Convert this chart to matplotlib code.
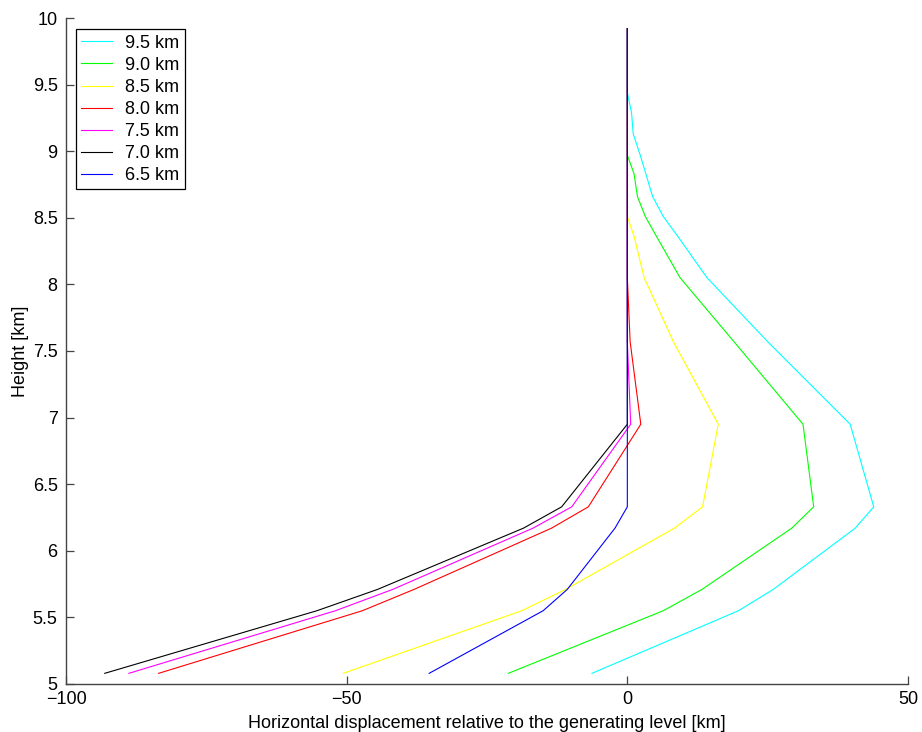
import matplotlib
matplotlib.use("Agg")
import matplotlib.pyplot as plt
import numpy as np

plt.rcParams['font.family'] = ['Liberation Sans', 'DejaVu Sans']

# model levels (km) shared by all trajectories
heights = [5.08, 5.55, 5.71, 6.17, 6.33, 6.95, 7.57, 8.05, 8.36, 8.51,
           8.66, 8.83, 8.97, 9.13, 9.29, 9.44, 9.92]

# horizontal displacement (km) per generating level
disp_95 = [-6.3, 19.8, 26.0, 40.6, 43.9, 39.7, 25.0, 14.2, 9.0, 6.4,
           4.5, 3.3, 2.3, 1.05, 0.75, 0, 0]
disp_90 = [-21.2, 6.4, 13.3, 29.3, 33.2, 31.3, 19.0, 9.4, 5.2, 3.2,
           1.8, 1.2, 0, 0, 0, 0, 0]
disp_85 = [-50.6, -18.8, -11.0, 8.4, 13.4, 16.2, 8.2, 3.0, 1.2, 0,
           0, 0, 0, 0, 0, 0, 0]
disp_80 = [-83.5, -47.2, -38.0, -13.5, -6.95, 2.4, 0.5, 0, 0, 0,
           0, 0, 0, 0, 0, 0, 0]
disp_75 = [-88.8, -52.0, -41.8, -16.8, -9.9, 0.6, 0, 0, 0, 0,
           0, 0, 0, 0, 0, 0, 0]
disp_70 = [-93.1, -55.3, -44.5, -18.5, -11.7, 0, 0, 0, 0, 0,
           0, 0, 0, 0, 0, 0, 0]
disp_65 = [-35.3, -15.0, -10.7, -2.2, 0, 0, 0, 0, 0, 0,
           0, 0, 0, 0, 0, 0, 0]

labels = ['9.5 km', '9.0 km', '8.5 km', '8.0 km', '7.5 km', '7.0 km', '6.5 km']
colors = ['#00ffff', '#00ff00', '#ffff00', '#ff0000', '#ff00ff', '#000000', '#0000ff']
series = [disp_95, disp_90, disp_85, disp_80, disp_75, disp_70, disp_65]

fig = plt.figure(figsize=(9.22, 7.32), dpi=100)
ax = fig.add_axes([0.0716, 0.0656, 0.9132, 0.9098])

for d, c, lab in zip(series, colors, labels):
    ax.plot(d, heights, color=c, lw=0.8, label=lab)

ax.set_xlim(-100, 50)
ax.set_ylim(5, 10)
ax.set_xticks([-100, -50, 0, 50])
ax.set_xticklabels(['\u2212100', '\u221250', '0', '50'])
yt = np.arange(5, 10.01, 0.5)
ax.set_yticks(yt)
ax.set_yticklabels([('%g' % v) for v in yt])
ax.tick_params(direction='in', length=6, width=0.9, labelsize=13,
               color='#444444')
ax.tick_params(axis='x', pad=5)
ax.tick_params(axis='y', pad=6)
ax.spines['top'].set_visible(False)
ax.spines['right'].set_visible(False)
for s in ['left', 'bottom']:
    ax.spines[s].set_linewidth(1.0)
    ax.spines[s].set_color('#444444')

ax.set_xlabel('Horizontal displacement relative to the generating level [km]',
              fontsize=13, labelpad=5)
ax.set_ylabel('Height [km]', fontsize=13, labelpad=3)

leg = ax.legend(loc='upper left', bbox_to_anchor=(0.0115, 0.983),
                borderaxespad=0, fancybox=False, framealpha=1,
                edgecolor='k', fontsize=13, handlelength=1.7,
                handletextpad=0.75, labelspacing=0.28, borderpad=0.3)
leg.get_frame().set_linewidth(0.9)

fig.savefig('out.png', dpi=100)
